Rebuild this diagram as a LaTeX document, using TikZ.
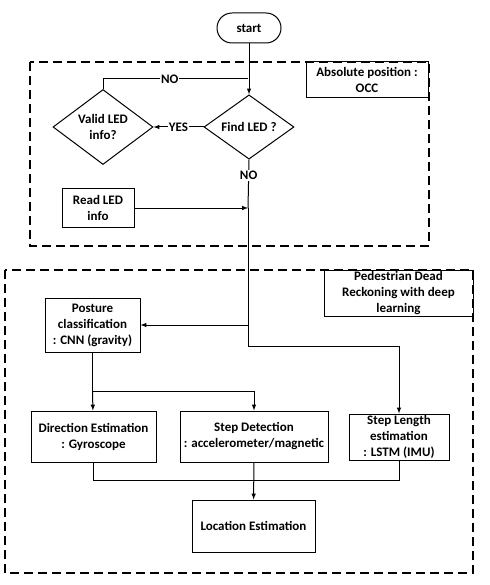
\documentclass[tikz,border=0pt]{standalone}
\usepackage{fontspec}
\setmainfont{Carlito}
\usetikzlibrary{shapes.geometric,arrows,positioning,calc}
\tikzstyle{txt}=[font=\bfseries\fontsize{13}{16}\selectfont, align=center, text=black]
\tikzstyle{block}=[txt, draw, rectangle, line width=1pt, inner sep=0pt]
\tikzstyle{decision}=[txt, draw, diamond, line width=1pt, inner sep=0pt]
\tikzstyle{terminal}=[txt, draw, rectangle, rounded corners=15pt, line width=1pt, minimum width=64pt, minimum height=30pt]
\tikzstyle{frame}=[line width=1.2pt, dash pattern=on 9pt off 5pt]
\tikzstyle{line}=[line width=1pt]
\tikzstyle{arrow}=[line, -latex]
\tikzstyle{lbl}=[txt, fill=white, inner sep=1pt]
\tikzset{y=-1pt}
\tikzset{x=1pt}

\begin{document}
\begin{tikzpicture}
  \useasboundingbox (0,0) rectangle (489,585);

  %% group frames
  \draw[frame] (30,62) rectangle (429,246);
  \draw[frame] (5,270) rectangle (473,573);
  \draw (367,80) node[block, minimum width=122pt, minimum height=36pt] (occ) {Absolute position :\\OCC};
  \draw (398.5,293) node[block, minimum width=149pt, minimum height=46pt] (pdr) {Pedestrian Dead\\Reckoning with deep\\learning};

  %% OCC part
  \draw (249,28) node[terminal] (start) {start};
  \draw (249,127) node[decision, minimum width=90pt, minimum height=54pt] (find) {Find LED ?};
  \draw (103,127) node[decision, minimum width=100pt, minimum height=65pt] (valid) {Valid LED\\info?};
  \draw (98,208) node[block, minimum width=72pt, minimum height=38pt] (readled) {Read LED\\info};

  %% PDR part
  \draw (92.5,325) node[block, minimum width=95pt, minimum height=54pt] (posture) {Posture\\classification\\: CNN (gravity)};
  \draw (93.5,436.5) node[block, minimum width=125pt, minimum height=51pt] (direction) {Direction Estimation\\: Gyroscope};
  \draw (254,436.5) node[block, minimum width=148pt, minimum height=51pt] (stepdet) {Step Detection\\: accelerometer/magnetic};
  \draw (399,437) node[block, minimum width=100pt, minimum height=46pt] (steplen) {Step Length\\estimation\\: LSTM (IMU)};
  \draw (253.5,526) node[block, minimum width=123pt, minimum height=52pt] (location) {Location Estimation};

  %% junctions
  \coordinate (jno) at (248,79);
  \coordinate (jread) at (248,208);
  \coordinate (jpos) at (248,325);
  \coordinate (jlen) at (248,346);
  \coordinate (jbr) at (92.5,391);
  \coordinate (jloc) at (254,480);

  %% connectors
  \draw[arrow] (start) -- (find);
  \draw[line] (valid.north) |- (jno) node[lbl, pos=0.73] {NO};
  \draw[arrow] (find) -- node[lbl] {YES} (valid);
  \draw[line] (find.south) -- node[lbl, pos=0.33] {NO} (jread);
  \draw[arrow] (readled) -- (jread);
  \draw[line] (jread) -- (jpos);
  \draw[arrow] (jpos) -- (posture);
  \draw[arrow] (jpos) -- (jlen) -| (steplen.north);
  \draw[line] (posture) -- (jbr);
  \draw[arrow] (jbr) -- (direction);
  \draw[arrow] (jbr) -| (stepdet.north);
  \draw[arrow] (stepdet) -- (location);
  \draw[line] (direction.south) |- (jloc);
  \draw[line] (steplen.south) |- (jloc);
\end{tikzpicture}
\end{document}
